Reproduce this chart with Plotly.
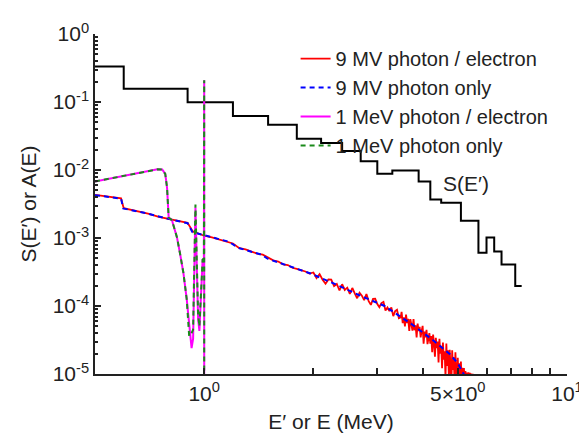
import plotly.graph_objects as go

# ---------------- data ----------------
# S(E') step spectrum: bin edges (MeV) and levels
s_edges = [0.3, 0.6, 0.9, 1.2, 1.5, 1.8, 2.1, 2.4, 2.7, 3.0, 3.3, 3.9, 4.2, 4.5, 5.1, 5.7, 6.0, 6.3, 6.6, 7.2, 7.5]
s_levels = [0.332, 0.156, 0.099, 0.0621, 0.0464, 0.0288, 0.0249, 0.0190, 0.0135, 0.0088, 0.00984,
            0.00675, 0.00367, 0.00330, 0.00179, 0.000606, 0.00102, 0.000633, 0.000406, 0.000197]

# 9 MV photon only (smooth)
e9_only = [0.50, 0.59, 0.598, 0.70, 0.79, 0.90, 0.928, 0.994, 1.08, 1.167, 1.242, 1.35, 1.441, 1.495,
           1.692, 1.963, 2.306, 2.676, 3.143, 3.491, 3.784, 4.282, 4.758, 5.0, 5.19, 5.3]
a9_only = [0.00427, 0.00380, 0.00272, 0.00228, 0.00193, 0.00165, 0.00122, 0.00110, 0.00099, 0.000884,
           0.000716, 0.00063, 0.000567, 0.000496, 0.000393, 0.000301, 0.000208, 0.000144, 0.000100,
           6.93e-5, 5.13e-5, 3.11e-5, 1.95e-5, 1.44e-5, 1.0e-5, 7.0e-6]

# 9 MV photon / electron (noisy)
e9_pe = [0.50, 0.55, 0.59, 0.60, 0.65, 0.70, 0.75, 0.80, 0.85, 0.90, 0.93, 0.97, 1.00, 1.05, 1.10, 1.15,
         1.20, 1.25, 1.30, 1.35, 1.40, 1.45, 1.50, 1.55, 1.60, 1.65, 1.70, 1.75, 1.80, 1.85, 1.90, 1.95,
         2.00, 2.04, 2.08, 2.12, 2.16, 2.20, 2.24, 2.28, 2.32, 2.36, 2.40, 2.44, 2.48, 2.52, 2.56, 2.60,
         2.64, 2.68, 2.72, 2.76, 2.80, 2.84, 2.88, 2.92, 2.96, 3.00, 3.04, 3.08, 3.12, 3.16, 3.20, 3.24,
         3.28, 3.32, 3.36, 3.40, 3.44, 3.48,
         3.500, 3.525, 3.550, 3.575, 3.600, 3.625, 3.650, 3.675, 3.700, 3.725, 3.750, 3.775, 3.800,
         3.825, 3.850, 3.875, 3.900, 3.925, 3.950, 3.975, 4.000, 4.025, 4.050, 4.075, 4.100, 4.125,
         4.150, 4.175, 4.200, 4.225, 4.250, 4.275, 4.300, 4.325, 4.350, 4.375, 4.400, 4.425, 4.450,
         4.475, 4.500, 4.525, 4.550, 4.575, 4.600, 4.625, 4.650, 4.675, 4.700, 4.725, 4.750, 4.775,
         4.800, 4.825, 4.850, 4.875, 4.900, 4.925, 4.950, 4.975, 5.000, 5.025, 5.050, 5.075, 5.100,
         5.125, 5.150, 5.175, 5.200, 5.225, 5.250, 5.275, 5.300, 5.325, 5.350, 5.375, 5.400, 5.425,
         5.450, 5.475, 5.500, 5.525]
a9_pe = [0.00430, 0.00405, 0.00382, 0.00275, 0.00250, 0.00228, 0.00205, 0.00191, 0.00177, 0.00167,
         0.00125, 0.00115, 0.00108, 0.00102, 0.00095, 0.00090, 0.00083, 0.00071, 0.00068, 0.00063,
         0.00059, 0.00057, 0.00051, 0.00047, 0.00045, 0.00041, 0.00040, 0.000365, 0.000352, 0.000338,
         0.000322, 0.000300,
         3.11e-4, 2.57e-4, 2.95e-4, 2.44e-4, 2.13e-4, 2.45e-4, 2.44e-4, 1.96e-4, 2.11e-4, 1.69e-4,
         2.09e-4, 1.72e-4, 1.86e-4, 1.50e-4, 1.84e-4, 1.53e-4, 1.30e-4, 1.57e-4, 1.42e-4, 1.22e-4,
         1.50e-4, 1.18e-4, 1.04e-4, 1.27e-4, 1.28e-4, 1.07e-4, 9.6e-5, 1.10e-4, 1.15e-4, 8.6e-5,
         9.5e-5, 8.4e-5, 9.5e-5, 7.1e-5, 8.4e-5, 8.8e-5, 6.6e-5, 6.8e-5,
         8.2e-5, 5.6e-5, 6.8e-5, 5.0e-5, 7.5e-5, 5.6e-5, 6.5e-5, 4.3e-5, 6.4e-5, 5.3e-5, 4.35e-5,
         6.4e-5, 4.4e-5, 5.2e-5, 3.45e-5, 5.5e-5, 4.3e-5, 4.95e-5, 3.45e-5, 4.3e-5, 5.1e-5, 2.8e-5,
         4.2e-5, 3.46e-5, 4.45e-5, 2.75e-5, 3.6e-5, 4.0e-5, 2.8e-5, 3.6e-5, 2.1e-5, 3.8e-5, 2.8e-5,
         1.8e-5, 3.4e-5, 2.4e-5, 3.0e-5, 1.48e-5, 3.3e-5, 2.0e-5, 2.6e-5, 1.22e-5, 2.9e-5, 1.62e-5,
         2.16e-5, 8.9e-6, 2.8e-5, 1.31e-5, 2.24e-5, 9.1e-6, 2.27e-5, 1.53e-5, 7.0e-6, 2.24e-5, 1.15e-5,
         1.76e-5, 6.8e-6, 2.09e-5, 1.10e-5, 5.2e-6, 1.73e-5, 8.2e-6, 1.44e-5, 5.6e-6, 1.52e-5, 7.9e-6,
         1.24e-5, 4.1e-6, 1.22e-5, 5.2e-6, 1.11e-5, 3.4e-6, 1.05e-5, 3.9e-6, 1.06e-5, 2.1e-6, 1.04e-5,
         2.0e-6, 1.02e-5, 2.0e-6, 1.01e-5, 1.5e-6]

# 1 MeV photon / electron
e1_pe = [0.50, 0.58, 0.644, 0.70, 0.743, 0.766, 0.781, 0.790, 0.798, 0.815, 0.841, 0.857, 0.876, 0.895,
         0.911, 0.923, 0.932, 0.938, 0.946, 0.956, 0.962, 0.970, 0.979, 0.990, 0.998, 1.0, 1.0]
a1_pe = [0.00677, 0.00792, 0.00867, 0.0095, 0.01023, 0.0102, 0.00875, 0.00548, 0.00201, 0.00182,
         0.00103, 0.000606, 0.000311, 0.000126, 5.13e-5, 2.4e-5, 3.3e-5, 0.000246, 0.0028, 0.000246,
         6.5e-5, 4.3e-5, 0.00013, 0.00048, 0.0005, 0.208, 1e-7]

# 1 MeV photon only
e1_only = [0.50, 0.58, 0.644, 0.70, 0.743, 0.766, 0.781, 0.790, 0.798, 0.815, 0.841, 0.857, 0.876, 0.895,
           0.909, 0.923, 0.932, 0.938, 0.946, 0.956, 0.962, 0.970, 0.981, 0.990, 0.998, 1.0, 1.0]
a1_only = [0.00677, 0.00792, 0.00867, 0.0095, 0.01023, 0.0102, 0.00875, 0.00548, 0.00201, 0.00182,
           0.00103, 0.000606, 0.000311, 0.000126, 3.6e-5, 4.0e-5, 4.5e-5, 0.00030, 0.0031, 0.00030,
           7.5e-5, 5.0e-5, 0.000197, 0.00048, 0.0005, 0.208, 1e-7]

x_tickvals = [1, 5, 10]
x_ticktext = ["10<sup>0</sup>", "5×10<sup>0</sup>", "10<sup>1</sup>"]
x_minor = [2, 3, 4, 6, 7, 8, 9]
y_tickvals = [1e-5, 1e-4, 1e-3, 1e-2, 1e-1, 1]
y_ticktext = ["10<sup>-5</sup>", "10<sup>-4</sup>", "10<sup>-3</sup>", "10<sup>-2</sup>",
              "10<sup>-1</sup>", "10<sup>0</sup>"]
y_minor = [m * 10.0 ** k for k in range(-5, 0) for m in range(2, 10)]

FONT = "Arial, Liberation Sans, sans-serif"
TXT = "#222222"
FS = 21

fig = go.Figure()
fig.add_trace(go.Scatter(x=s_edges, y=s_levels + [s_levels[-1]], mode="lines", line_shape="hv",
                         line=dict(color="black", width=2), showlegend=False))
fig.add_trace(go.Scatter(x=e9_pe, y=a9_pe, mode="lines", name="9 MV photon / electron",
                         line=dict(color="#ff0000", width=1.8)))
fig.add_trace(go.Scatter(x=e9_only, y=a9_only, mode="lines", name="9 MV photon only",
                         line=dict(color="#0000ff", width=2, dash="5px,4px")))
fig.add_trace(go.Scatter(x=e1_pe, y=a1_pe, mode="lines", name="1 MeV photon / electron",
                         line=dict(color="#ff00ff", width=2)))
fig.add_trace(go.Scatter(x=e1_only, y=a1_only, mode="lines", name="1 MeV photon only",
                         line=dict(color="#1a8a1a", width=2, dash="5px,4px")))

fig.add_annotation(x=0.7204, y=-2.203, xref="x", yref="y", text="S(E′)", showarrow=False,
                   font=dict(family=FONT, size=FS, color=TXT), xanchor="center", yanchor="middle")

fig.update_layout(
    width=587, height=439,
    margin=dict(l=87, r=17, t=21, b=73),
    paper_bgcolor="white", plot_bgcolor="white",
    font=dict(family=FONT, size=FS, color=TXT),
    legend=dict(x=0.425, y=0.985, xanchor="left", yanchor="top", bgcolor="rgba(0,0,0,0)",
                font=dict(family=FONT, size=20, color=TXT), itemwidth=30, tracegroupgap=0),
    xaxis=dict(type="log", range=[-0.301, 1.0], showline=True, linecolor="#222", linewidth=1.5,
               ticks="inside", ticklen=6, tickcolor="#222", tickwidth=1.5,
               tickmode="array", tickvals=x_tickvals, ticktext=x_ticktext, showgrid=False,
               zeroline=False, mirror=False,
               minor=dict(tickmode="array", tickvals=x_minor, ticks="inside", ticklen=6,
                          tickcolor="#222", showgrid=False),
               title=dict(text="E′ or E (MeV)", font=dict(family=FONT, size=FS, color=TXT), standoff=10),
               tickfont=dict(family=FONT, size=FS, color=TXT)),
    yaxis=dict(type="log", range=[-5, 0], showline=True, linecolor="#222", linewidth=1.5,
               ticks="inside", ticklen=6, tickcolor="#222", tickwidth=1.5,
               tickmode="array", tickvals=y_tickvals, ticktext=y_ticktext, showgrid=False,
               zeroline=False, mirror=False,
               minor=dict(tickmode="array", tickvals=y_minor, ticks="inside", ticklen=3,
                          tickcolor="#222", showgrid=False),
               title=dict(text="S(E′) or A(E)", font=dict(family=FONT, size=FS, color=TXT), standoff=10),
               tickfont=dict(family=FONT, size=FS, color=TXT)),
)

fig.write_html("out.html")
